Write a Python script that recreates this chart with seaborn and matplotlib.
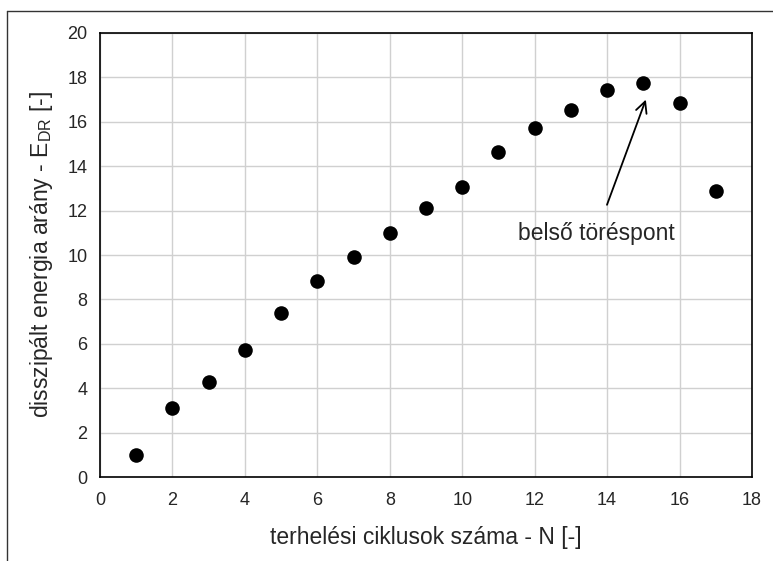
import matplotlib
matplotlib.use("Agg")
import matplotlib.pyplot as plt
import seaborn as sns
import pandas as pd
from matplotlib.lines import Line2D

# adatok (leolvasva)
ciklus = [1, 2, 3, 4, 5, 6, 7, 8, 9, 10, 11, 12, 13, 14, 15, 16, 17]
edr = [1.0, 3.1, 4.3, 5.7, 7.4, 8.85, 9.9, 11.0, 12.1, 13.05, 14.65, 15.7, 16.55, 17.45, 17.75, 16.85, 12.9]
xticks = [0, 2, 4, 6, 8, 10, 12, 14, 16, 18]
yticks = [0, 2, 4, 6, 8, 10, 12, 14, 16, 18, 20]

df = pd.DataFrame({'N': ciklus, 'EDR': edr})

sns.set_style('white')
plt.rcParams['font.family'] = ['Liberation Sans', 'DejaVu Sans']
plt.rcParams['mathtext.fontset'] = 'custom'
plt.rcParams['mathtext.rm'] = 'Liberation Sans'

fig = plt.figure(figsize=(7.73, 5.61), dpi=100)
ax = fig.add_axes([0.1294, 0.1497, 0.8434, 0.7915])

sns.scatterplot(data=df, x='N', y='EDR', ax=ax, color='black', s=110,
                edgecolor='black', linewidth=0, zorder=3)

ax.set_xlim(0, 18)
ax.set_ylim(0, 20)
ax.set_xticks(xticks)
ax.set_yticks(yticks)
ax.tick_params(axis='both', labelsize=13, length=0)
ax.tick_params(axis='x', pad=11)
ax.tick_params(axis='y', pad=9)
ax.grid(True, color='#d0d0d0', linewidth=1.0)
ax.set_axisbelow(True)
for sp in ax.spines.values():
    sp.set_color('black')
    sp.set_linewidth(1.2)

ax.set_xlabel('terhelési ciklusok száma - N [-]', fontsize=16.5, labelpad=12)
ax.set_ylabel(r'disszipált energia arány - E$\mathregular{_{DR}}$ [-]', fontsize=16.5, labelpad=9)

ax.annotate('belső töréspont', xy=(15.07, 17.0), xytext=(13.7, 10.95),
            fontsize=16.5, ha='center', va='center',
            arrowprops=dict(arrowstyle='->', color='black', lw=1.3,
                            shrinkA=11, shrinkB=0, mutation_scale=20))

# kulso keret (csak bal es felso el latszik)
fig.add_artist(Line2D([0.009, 1.0], [0.980, 0.980], transform=fig.transFigure, color='#333333', lw=1.0))
fig.add_artist(Line2D([0.009, 0.009], [0.0, 0.980], transform=fig.transFigure, color='#333333', lw=1.0))

fig.savefig('out.png', dpi=100)
